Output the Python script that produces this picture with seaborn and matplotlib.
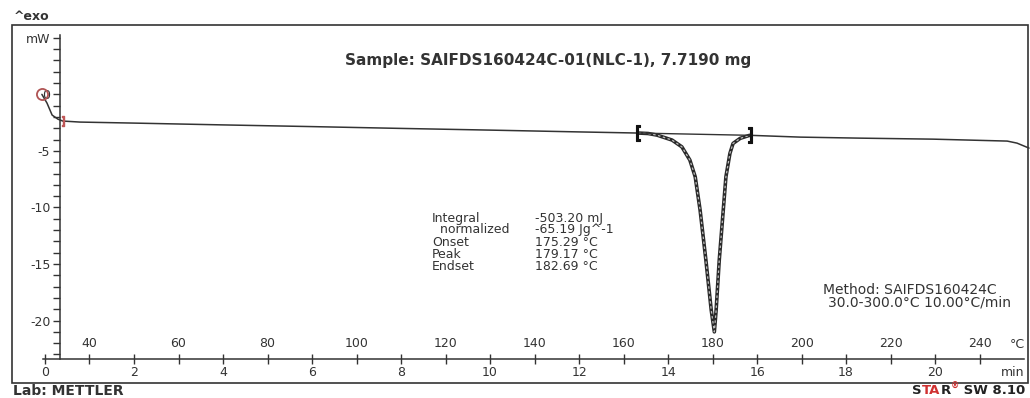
import numpy as np
import pandas as pd
import matplotlib
matplotlib.use('Agg')
import matplotlib.pyplot as plt
import seaborn as sns
from matplotlib.patches import Rectangle
from matplotlib.ticker import MultipleLocator, FixedLocator

# ---------------- data ----------------
time_min = [-0.07, 0.045, 0.16, 0.29, 0.40, 0.79, 2.0, 4.0, 6.0, 8.0, 10.0, 12.0,
            13.33, 13.55, 13.75, 14.09, 14.31, 14.49, 14.61, 14.72, 14.85, 14.97,
            15.04, 15.08, 15.15, 15.24, 15.30, 15.39, 15.46, 15.62, 15.80, 15.84,
            16.97, 18.31, 19.96, 21.62, 21.84, 22.11]
heat_flow_mw = [0.0, -0.77, -1.83, -2.19, -2.36, -2.45, -2.54, -2.70, -2.85, -3.01, -3.16, -3.32,
                -3.42, -3.46, -3.60, -4.04, -4.64, -5.81, -7.29, -10.24, -14.66, -19.08,
                -21.0, -19.08, -14.66, -10.24, -7.29, -5.22, -4.34, -3.89, -3.66, -3.62,
                -3.78, -3.87, -3.96, -4.13, -4.31, -4.75]

time_ticks = [0, 2, 4, 6, 8, 10, 12, 14, 16, 18, 20]
temp_ticks = [40, 60, 80, 100, 120, 140, 160, 180, 200, 220, 240]
y_ticks = [5, 0, -5, -10, -15, -20]
y_tick_labels = ['mW', '0', '-5', '-10', '-15', '-20']
limit_left_t = 13.33
limit_right_t = 15.84
start_temp = 30.0
heating_rate = 10.0

title = 'Sample: SAIFDS160424C-01(NLC-1), 7.7190 mg'
result_labels = ['Integral', '  normalized', 'Onset', 'Peak', 'Endset']
result_values = ['-503.20 mJ', '-65.19 Jg^-1', '175.29 °C', '179.17 °C', '182.69 °C']
method_lines = ['Method: SAIFDS160424C', '30.0-300.0°C 10.00°C/min']

# ---------------- styling ----------------
sns.set_theme(style='white')
plt.rcParams['font.family'] = ['DejaVu Sans']
TXT = '#333333'
LINE = '#333333'

W, H = 1030, 398
fig = plt.figure(figsize=(W / 100, H / 100), dpi=100)
fig.patch.set_facecolor('white')


def fx(px):
    return px / W


def fy(py):
    return 1 - py / H


ax_l, ax_r, ax_t, ax_b = 40.5, 1029, 35, 359
ax = fig.add_axes([fx(ax_l), fy(ax_b), (ax_r - ax_l) / W, (ax_b - ax_t) / H])
ax.set_facecolor('none')
ax.set_xlim(-0.101, 22.11)
ax.set_ylim(-23.4, 5.25)

df = pd.DataFrame({'t': time_min, 'mW': heat_flow_mw})
sns.lineplot(data=df, x='t', y='mW', ax=ax, color=LINE, lw=1.1,
             sort=False, estimator=None, clip_on=False)

# peak segment: doubled line look
pk = df[(df.t >= limit_left_t) & (df.t <= limit_right_t)]
sns.lineplot(data=pk, x='t', y='mW', ax=ax, color='#2a2a2a', lw=2.6,
             sort=False, estimator=None)
ax.plot(pk.t, pk.mW, color='#bdbdbd', lw=0.9, ls=(0, (2, 2)))

# integration baseline and limits
vl = np.interp(limit_left_t, time_min, heat_flow_mw)
vr = np.interp(limit_right_t, time_min, heat_flow_mw)
ax.plot([limit_left_t, limit_right_t], [vl, vr], color=LINE, lw=1.0)
ax.plot([limit_left_t], [vl], marker='$[$', ms=11, color='#111111', mew=0.8)
ax.plot([limit_right_t], [vr], marker='$]$', ms=11, color='#111111', mew=0.8)

# red start markers
ax.plot([time_min[0]], [heat_flow_mw[0]], marker='o', mfc='none', mec='#b05454',
        ms=8, mew=1.3, clip_on=False)
ax.plot([time_min[4]], [heat_flow_mw[4]], marker='$]$', color='#c05858',
        ms=7, clip_on=False)

# spines
for s in ['top', 'right']:
    ax.spines[s].set_visible(False)
ax.spines['left'].set_position(('data', 0.337))
ax.spines['bottom'].set_bounds(-0.05, 22.0)
for s in ['left', 'bottom']:
    ax.spines[s].set_color(LINE)
    ax.spines[s].set_linewidth(1.1)

# y axis ticks
ax.yaxis.set_major_locator(FixedLocator(y_ticks))
ax.set_yticklabels(y_tick_labels)
ax.yaxis.set_minor_locator(MultipleLocator(1))
ax.tick_params(axis='y', which='both', direction='out', length=5, width=1.0,
               color=LINE, labelsize=9, labelcolor=TXT, pad=2, left=True)

# x axis: time below
ax.set_xticks(time_ticks)
ax.set_xticklabels([str(v) for v in time_ticks])
ax.tick_params(axis='x', which='major', direction='inout', length=7, width=1.0,
               color=LINE, labelsize=9, labelcolor=TXT, pad=1.5, bottom=True)
ax.set_xlabel('')
ax.set_ylabel('')

# x axis: temperature above (secondary scale)
secax = ax.secondary_xaxis(0.0, functions=(lambda t: start_temp + heating_rate * t,
                                           lambda T: (T - start_temp) / heating_rate))
secax.set_alignment('top')
secax.set_xticks(temp_ticks)
secax.set_xticklabels([str(v) for v in temp_ticks])
secax.tick_params(axis='x', direction='inout', length=7, width=1.0, color=LINE,
                  labelsize=9, labelcolor=TXT, pad=3)
for s in secax.spines.values():
    s.set_visible(False)

# unit labels at axis end
fig.text(fx(1017), fy(344), '°C', fontsize=9, color=TXT, ha='center', va='center')
fig.text(fx(1013), fy(373), 'min', fontsize=9, color=TXT, ha='center', va='center')

# outer frame
fig.add_artist(Rectangle((fx(12), fy(383)), fx(1028) - fx(12), fy(25) - fy(383),
                         transform=fig.transFigure, fill=False, lw=1.2, ec=LINE))

# header / footer texts
fig.text(fx(14), fy(17), '^exo', fontsize=9, fontweight='bold', color=TXT,
         ha='left', va='center')
fig.text(fx(548), fy(61), title, fontsize=11, fontweight='bold', color=TXT,
         ha='center', va='center')
fig.text(fx(13), fy(391), 'Lab: METTLER', fontsize=10, fontweight='bold', color=TXT,
         ha='left', va='center')

# results block
row_y = [218, 230, 242, 254, 266]
for lab, val, yy in zip(result_labels, result_values, row_y):
    fig.text(fx(432), fy(yy), lab, fontsize=9, color=TXT, ha='left', va='center')
    fig.text(fx(535), fy(yy), val, fontsize=9, color=TXT, ha='left', va='center')

# method block
fig.text(fx(910), fy(290), method_lines[0], fontsize=10, color=TXT, ha='center', va='center')
fig.text(fx(920), fy(302), method_lines[1], fontsize=10, color=TXT, ha='center', va='center')

# STAR SW footer, composed right-to-left
renderer = fig.canvas.get_renderer()
pieces = [(' SW 8.10', '#222222', 9.5, 0), ('®', '#d03030', 6, 4), ('R', '#222222', 9.5, 0),
          ('TA', '#d03030', 9.5, 0), ('S', '#222222', 9.5, 0)]
xr = 1025
for txt, col, fs, dy in pieces:
    t = fig.text(fx(xr), fy(390 - dy), txt, fontsize=fs, fontweight='bold', color=col,
                 ha='right', va='center')
    bb = t.get_window_extent(renderer)
    xr = bb.x0

fig.savefig('out.png', dpi=100, facecolor='white')
